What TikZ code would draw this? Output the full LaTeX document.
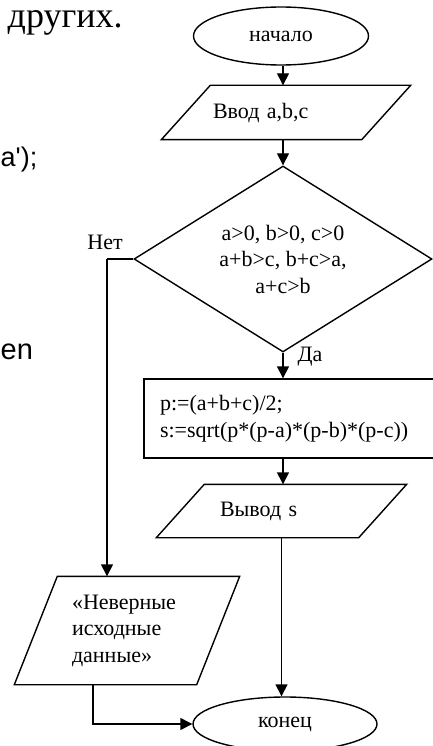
\documentclass[tikz,border=0pt]{standalone}
\usepackage{fontspec}
\setmainfont{Liberation Serif}
\newfontfamily\arialfont{Liberation Sans}
\usetikzlibrary{shapes.geometric,arrows.meta}
% parallelogram drawn over the box of a node
\newcommand\ioshape[2]{\draw ([xshift=#2]#1.north west) -- (#1.north east)
  -- ([xshift=-#2]#1.south east) -- (#1.south west) -- cycle;}

\begin{document}
\begin{tikzpicture}[x=1pt,y=-1pt,line width=1.4pt,
  every node/.style={font=\fontsize{22}{26.5}\selectfont,inner sep=0pt},
  term/.style={draw,ellipse},
  io/.style={rectangle,align=left,inner ysep=0pt},
  arr/.style={-{Triangle[length=12pt,width=12pt]}}]
  \useasboundingbox (0,0) rectangle (433,746);
  % text of the page around the scheme
  \node[anchor=base west,font=\fontsize{36}{42}\selectfont] (txt1) at (7,28) {других.};
  \node[anchor=base west,font=\arialfont\fontsize{27}{32}\selectfont] (txt2) at (0,167) {a');};
  \node[anchor=base west,font=\arialfont\fontsize{29}{34}\selectfont] (txt3) at (0,359) {en};
  % scheme
  \node[term,minimum width=175pt,minimum height=58pt] (start) at (281,36) {начало};
  \node[io,inner xsep=51pt,text width=146pt,minimum height=53pt] (input) at (286,112.5) {Ввод a,b,c};
  \node[draw,diamond,aspect=1.6,minimum width=298pt,minimum height=186pt,align=center] (cond) at (283,259) {a>0, b>0, c>0\\a+b>c, b+c>a,\\a+c>b};
  \node[draw,inner xsep=16pt,text width=269pt,minimum height=79pt,align=left] (calc) at (294.5,418.5) {p:=(a+b+c)/2;\\s:=sqrt(p*(p-a)*(p-b)*(p-c))};
  \node[io,inner xsep=63pt,text width=123pt,minimum height=52pt] (output) at (281.5,511) {Вывод s};
  \node[io,inner xsep=57pt,text width=110pt,minimum height=107pt] (error) at (127,630.5) {«Неверные\\исходные\\данные»};
  \node[term,minimum width=184pt,minimum height=54pt] (stop) at (285,724) {конец};
  \ioshape{input}{49pt}
  \ioshape{output}{48pt}
  \ioshape{error}{43pt}
  \coordinate (no) at (107,259);
  \node[anchor=base] (nolabel) at (105,249) {Нет};
  \node[anchor=base west] (yeslabel) at (297,361) {Да};
  % connectors
  \draw[arr] (cond.north |- start.south) -- (cond.north |- input.north);
  \draw[arr] (cond.north |- input.south) -- (cond.north);
  \draw[arr] (cond.south) -- (cond.south |- calc.north);
  \draw[arr] (cond.south |- calc.south) -- (cond.south |- output.north);
  \draw[arr] (output.south) -- (output.south |- stop.north);
  \draw (cond.west) -- (no);
  \draw[arr] (no) -- (no |- error.north);
  \draw[arr] ([xshift=-34pt]error.south) |- (stop.west);
\end{tikzpicture}
\end{document}
